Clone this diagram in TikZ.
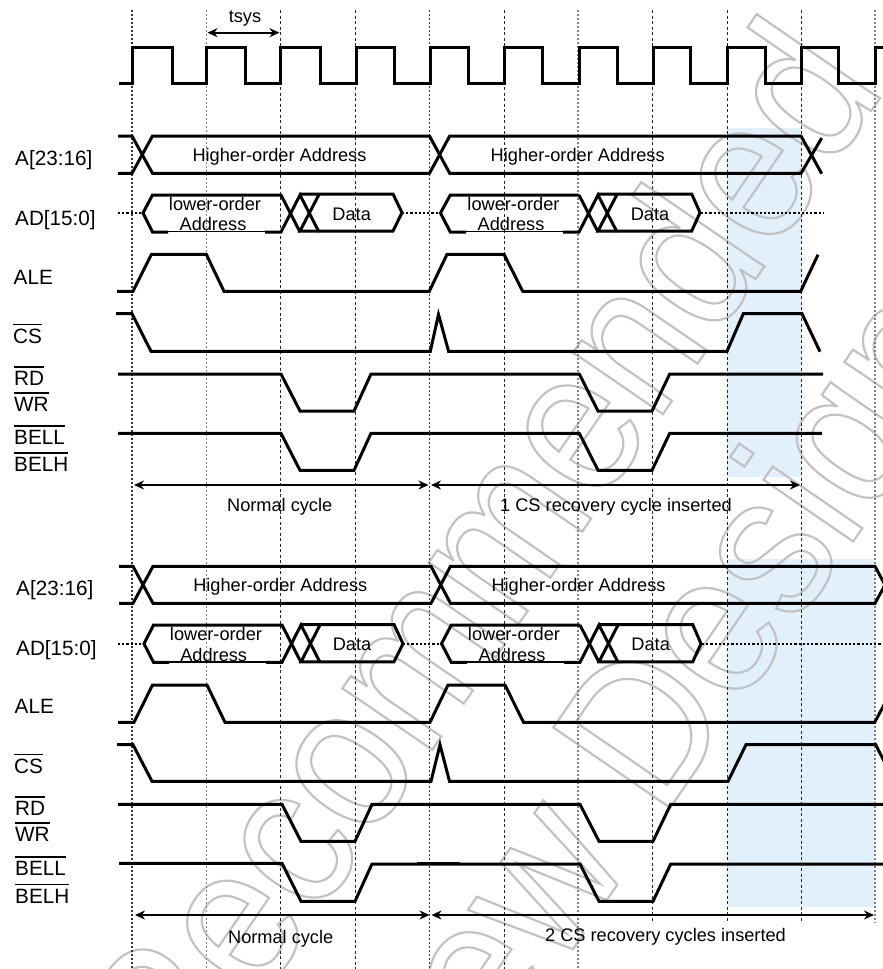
\documentclass[tikz,border=0pt]{standalone}
\usepackage{fontspec}
\setmainfont{Liberation Sans}
\newfontfamily\wmfont[FakeStretch=0.89]{Liberation Sans}
\usetikzlibrary{arrows.meta}
\definecolor{recov}{HTML}{E1F0FA}
\newcommand\ovl[1]{\leavevmode\vbox{\hrule height 1.4pt\kern 3.6pt\hbox{#1}}}
\newcommand\wm[1]{\special{pdf:code q 1 Tr 2.2 w 0.76 G}\wmfont\fontsize{206}{206}\selectfont #1\special{pdf:code Q}}
\tikzset{
 wave/.style={line width=3pt,black,line join=miter},
 thinwave/.style={line width=1.3pt,black},
 dots/.style={line width=2pt,black,dash pattern=on 2.2pt off 2pt},
 grid/.style={line width=0.9pt,black!85,dash pattern=on 3pt off 2.5pt},
 gridg/.style={line width=1.3pt,black!50,dash pattern=on 2.2pt off 1.8pt},
 gridb/.style={line width=1.4pt,black!80,dash pattern=on 2.2pt off 1.8pt},
 dim/.style={line width=1.7pt,black,{Stealth[length=10pt,width=9pt]}-{Stealth[length=10pt,width=9pt]}},
 lab/.style={font=\fontsize{20.7}{20.7}\selectfont,anchor=base west,inner sep=0pt},
 txt/.style={font=\fontsize{18.2}{18.2}\selectfont,inner sep=0pt,anchor=base},
 wmark/.style={rotate=55.5,anchor=base east,inner sep=0pt}
}
\begin{document}
\begin{tikzpicture}[x=1pt,y=-1pt]
\useasboundingbox (0,0) rectangle (883,969);
\clip (0,0) rectangle (883,969);
% recovery shading
\fill[recov] (727,128) rectangle (801,476.7);
\fill[recov] (728,559) rectangle (875,906.7);
% watermark
\node[wmark] (wm1) at (887,88) {\wm{Not Recommended}};
\node[wmark] (wm2) at (1037,274) {\wm{for New Designs}};
% time grid
\draw[gridb] (132,10) -- (132,969);
\draw[gridb] (429.5,10) -- (429.5,969);
\foreach \x in {206.7,578} \draw[gridg] (\x,10) -- (\x,969);
\foreach \x in {280.5,355.3,504.3} \draw[grid] (\x,10) -- (\x,969);
\foreach \x in {652.3,727,801} \draw[grid] (\x,10) -- (\x,923);
\draw[gridg] (875,10) -- (875,923);
% clock
\draw[wave] (119,83.2) -- (132,83.2) -- (132,47.5) -- (172,47.5) -- (172,83.2) -- (206.7,83.2) -- (206.7,47.5) -- (245,47.5) -- (245,83.2) -- (280.5,83.2) -- (280.5,47.5) -- (320,47.5) -- (320,83.2) -- (356,83.2) -- (356,47.5) -- (394,47.5) -- (394,83.2) -- (430,83.2) -- (430,47.5) -- (468,47.5) -- (468,83.2) -- (504.7,83.2) -- (504.7,47.5) -- (542,47.5) -- (542,83.2) -- (579,83.2) -- (579,47.5) -- (617,47.5) -- (617,83.2) -- (653,83.2) -- (653,47.5) -- (690,47.5) -- (690,83.2) -- (727.3,83.2) -- (727.3,47.5) -- (765,47.5) -- (765,83.2) -- (801,83.2) -- (801,47.5) -- (838,47.5) -- (838,83.2) -- (875,83.2) -- (875,47.5) -- (883,47.5);
\draw[dim] (207.5,32.7) -- (279.5,32.7);
\node[txt] (tsys) at (245,22.7) {tsys};
% ---------- upper diagram
\draw[wave] (118,136) -- (132,136) -- (152.5,173.3) -- (429.5,173.3) -- (449.7,136) -- (801,136) -- (821.7,173.7);
\draw[wave] (118,173.3) -- (132,173.3) -- (152.5,136) -- (429.5,136) -- (449.7,173.3) -- (801,173.3) -- (821.7,138);
% AD
\draw[dots] (118,213) -- (143,213);
\draw[dots] (402,212.7) -- (440.5,212.7);
\draw[dots] (701,212.7) -- (823,212.7);
\draw[wave] (300,232) -- (281,195) -- (152.5,195) -- (143,213) -- (152.5,232) -- (168,232);
\draw[thinwave] (168,231.7) -- (265,231.7);
\draw[wave] (265,232) -- (281,232) -- (300,195) -- (319,232);
\draw[wave] (319,194.5) -- (300,231) -- (393,231) -- (402,212.7) -- (393,194) -- (300,194);
\draw[wave] (579,195) -- (450.3,195) -- (440.5,213) -- (450.3,232) -- (466,232);
\draw[thinwave] (466,231.7) -- (563,231.7);
\draw[wave] (563,232) -- (579,232) -- (598,195) -- (617,232);
\draw[wave] (579,195) -- (598,232);
\draw[wave] (617,194.5) -- (598,231) -- (691.7,231) -- (700,212.7) -- (691.7,194) -- (598,194);
% ALE
\draw[wave] (117,291.3) -- (133,291.3) -- (151.5,254.3) -- (206.3,254.3) -- (224,291.3) -- (429.3,291.3) -- (447,254.3) -- (504,254.3) -- (522.7,291.3) -- (800.7,291.3) -- (818,254.7);
% CS
\draw[wave] (116,313.7) -- (132,313.7) -- (151,351.3) -- (430.3,351.3) -- (438.5,314.5) -- (448.6,351.3) -- (727,351.3) -- (743.3,313.7) -- (802,313.7) -- (820,351.7);
% RD/WR
\draw[wave] (118,374) -- (281,374) -- (300,411) -- (354,411) -- (371,374) -- (579.3,374) -- (598,411) -- (652,411) -- (669.7,374) -- (823,374);
% BELL/BELH
\draw[wave] (118,433.3) -- (281,433.3) -- (300,470.3) -- (354,470.3) -- (371,433.3) -- (579.3,433.3) -- (598,470.3) -- (652,470.3) -- (669.7,433.3) -- (822,433.3);
% spans
\draw[dim] (134,485) -- (428.5,485);
\draw[dim] (431,485) -- (800,485);
\node[txt] (nc1) at (279.7,511.7) {Normal cycle};
\node[txt] (cs1) at (616,511) {1 CS recovery cycle inserted};
% texts
\node[txt] (h1) at (279.5,161) {Higher-order Address};
\node[txt] (h2) at (577.7,161.3) {Higher-order Address};
\node[txt] (l1) at (215,210) {lower-order};
\node[txt] (a1) at (213,230.7) {Address};
\node[txt] (d1) at (351.7,220) {Data};
\node[txt] (l2) at (513.5,210) {lower-order};
\node[txt] (a2) at (511,230.7) {Address};
\node[txt] (d2) at (650,220) {Data};
% labels
\node[lab] (la1) at (15,165.5) {A[23:16]};
\node[lab] (la2) at (15,225.5) {AD[15:0]};
\node[lab] (la3) at (13.5,284.5) {ALE};
\node[lab] (la4) at (13,343.5) {\ovl{CS}};
\node[lab] (la5) at (14,385.5) {\ovl{RD}};
\node[lab] (la6) at (14,411.5) {\ovl{WR}};
\node[lab] (la7) at (14,444.5) {\ovl{BELL}};
\node[lab] (la8) at (14,471.5) {\ovl{BELH}};
% ---------- lower diagram
\draw[wave] (119,566.3) -- (133,566.3) -- (153,603.3) -- (431,603.3) -- (450.5,566.3) -- (875,566.3) -- (885,585);
\draw[wave] (119,603.3) -- (133,603.3) -- (153,566.3) -- (431,566.3) -- (450.5,603.3) -- (875,603.3) -- (885,585);
% AD
\draw[dots] (118,643.7) -- (144,643.7);
\draw[dots] (403,643.7) -- (441.5,643.7);
\draw[dots] (702,643.7) -- (883,643.7);
\draw[wave] (301,662.3) -- (282,625) -- (153.5,625) -- (144,643.7) -- (153.5,662.3) -- (169,662.3);
\draw[thinwave] (169,662) -- (266,662);
\draw[wave] (266,662.3) -- (282,662.3) -- (301,625) -- (320,662.3);
\draw[wave] (320,625) -- (301,661.8) -- (394,661.8) -- (403,643.7) -- (394,624.5) -- (301,624.5);
\draw[wave] (580,625) -- (451.3,625) -- (441.5,643.7) -- (451.3,662.3) -- (467,662.3);
\draw[thinwave] (467,662) -- (564,662);
\draw[wave] (564,662.3) -- (580,662.3) -- (599,625) -- (618,662.3);
\draw[wave] (580,625) -- (599,662.3);
\draw[wave] (618,625) -- (599,661.8) -- (692.7,661.8) -- (701,643.7) -- (692.7,624.5) -- (599,624.5);
% ALE
\draw[wave] (118,722.3) -- (134,722.3) -- (152.5,685) -- (207,685) -- (225,722.3) -- (430,722.3) -- (448,685) -- (505,685) -- (523.5,722.3) -- (874.7,722.3) -- (885,703);
% CS
\draw[wave] (117,744.7) -- (133,744.7) -- (152,781.3) -- (431,781.3) -- (440,744.7) -- (449.5,781.3) -- (728,781.3) -- (746,744.7) -- (875.7,744.7) -- (885,763);
% RD/WR
\draw[wave] (118,804.3) -- (282,804.3) -- (301,841.3) -- (355,841.3) -- (372,804.3) -- (580,804.3) -- (599,841.3) -- (653,841.3) -- (670.7,804.3) -- (885,804.3);
% BELL/BELH
\draw[wave] (119,863.3) -- (282,863.3) -- (301,901.3) -- (355,901.3) -- (372,864) -- (580,864) -- (599,901.3) -- (653,901.3) -- (670.7,864) -- (885,864);
\draw[wave] (417,863) -- (460,863);
% spans
\draw[dim] (135,915) -- (429.5,915);
\draw[dim] (431.5,915) -- (874,915);
\node[txt] (nc2) at (280.7,943) {Normal cycle};
\node[txt] (cs2) at (665.5,941.7) {2 CS recovery cycles inserted};
% texts
\node[txt] (h3) at (280.3,591.5) {Higher-order Address};
\node[txt] (h4) at (578.5,591.5) {Higher-order Address};
\node[txt] (l3) at (216,640.5) {lower-order};
\node[txt] (a3) at (213.7,661.2) {Address};
\node[txt] (d3) at (352,650.5) {Data};
\node[txt] (l4) at (514,640.5) {lower-order};
\node[txt] (a4) at (512,661.2) {Address};
\node[txt] (d4) at (650.7,650.5) {Data};
% labels
\node[lab] (lb1) at (16,595) {A[23:16]};
\node[lab] (lb2) at (16,655.5) {AD[15:0]};
\node[lab] (lb3) at (14.5,713.5) {ALE};
\node[lab] (lb4) at (14,773.5) {\ovl{CS}};
\node[lab] (lb5) at (15,815.5) {\ovl{RD}};
\node[lab] (lb6) at (15,841.5) {\ovl{WR}};
\node[lab] (lb7) at (15,875.5) {\ovl{BELL}};
\node[lab] (lb8) at (15,903) {\ovl{BELH}};
\end{tikzpicture}
\end{document}
